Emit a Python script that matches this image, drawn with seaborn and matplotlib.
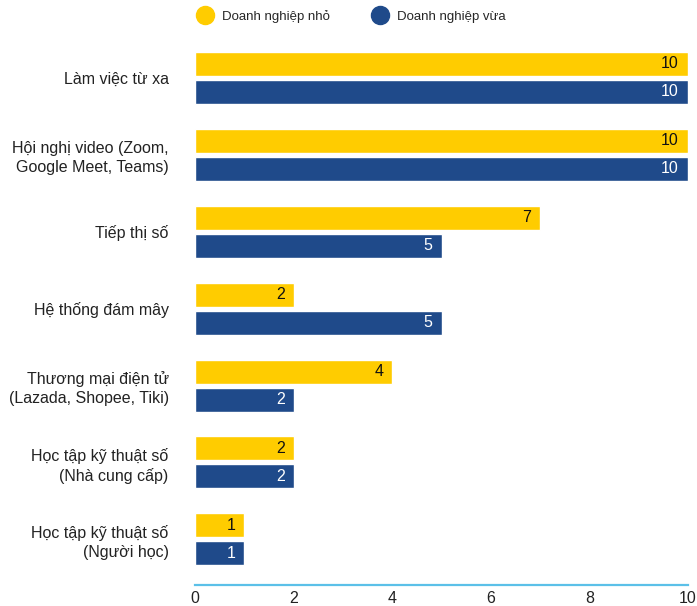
import pandas as pd
import numpy as np
import matplotlib
matplotlib.use("Agg")
import matplotlib.pyplot as plt
from matplotlib.lines import Line2D
import seaborn as sns

# chart data
categories = [
    "Làm việc từ xa",
    "Hội nghị video (Zoom,\nGoogle Meet, Teams)",
    "Tiếp thị số",
    "Hệ thống đám mây",
    "Thương mại điện tử\n(Lazada, Shopee, Tiki)",
    "Học tập kỹ thuật số\n(Nhà cung cấp)",
    "Học tập kỹ thuật số\n(Người học)",
]
small_biz = [10, 10, 7, 2, 4, 2, 1]
medium_biz = [10, 10, 5, 5, 2, 2, 1]
series_names = ["Doanh nghiệp nhỏ", "Doanh nghiệp vừa"]
x_ticks = [0, 2, 4, 6, 8, 10]

colors = ["#FFCC00", "#1F4A8A"]

df = pd.DataFrame({
    "category": categories * 2,
    "value": small_biz + medium_biz,
    "series": [series_names[0]] * len(categories) + [series_names[1]] * len(categories),
})

sns.set_style("white")
plt.rcParams['font.family'] = ['Liberation Sans', 'DejaVu Sans']

fig = plt.figure(figsize=(6.97, 6.06), dpi=100)
ax = fig.add_axes([0.2798, 0.0347, 0.7073, 0.9001])

sns.barplot(
    data=df, y="category", x="value", hue="series",
    orient="h", palette=colors, width=0.728, gap=0.143,
    saturation=1, legend=False, ax=ax,
)

# value labels inside the bar ends
text_colors = ["#111111", "white"]
for cont, tc in zip(ax.containers, text_colors):
    for p in cont.patches:
        w = p.get_width()
        ax.annotate(f"{w:g}", (w, p.get_y() + p.get_height() / 2),
                    xytext=(-6.5, 0), textcoords="offset points",
                    ha="right", va="center", fontsize=11.5, color=tc)

ax.set_xlim(0, 10)
ax.set_ylim(6.594, -0.5)
ax.set_xticks(x_ticks)
ax.set_xticklabels([str(t) for t in x_ticks], fontsize=11.5, color="#222222")
ax.tick_params(axis="x", length=0, pad=4)
ax.tick_params(axis="y", length=0, pad=19, labelsize=11.5, labelcolor="#222222")
for lab in ax.get_yticklabels():
    lab.set_horizontalalignment("right")
    lab.set_multialignment("right")
    lab.set_linespacing(1.3)
ax.set_xlabel("")
ax.set_ylabel("")

for s in ["top", "right", "left"]:
    ax.spines[s].set_visible(False)
ax.spines["bottom"].set_color("#5BC0E8")
ax.spines["bottom"].set_linewidth(1.6)

handles = [Line2D([], [], marker="o", linestyle="", markersize=13,
                  markerfacecolor=c, markeredgecolor=c) for c in colors]
fig.legend(handles, series_names, loc="center left", bbox_to_anchor=(0.266, 0.973),
           ncol=2, frameon=False, fontsize=9.5, handletextpad=0.7,
           columnspacing=3.15, handlelength=1.2)

fig.savefig("out.png", dpi=100)
